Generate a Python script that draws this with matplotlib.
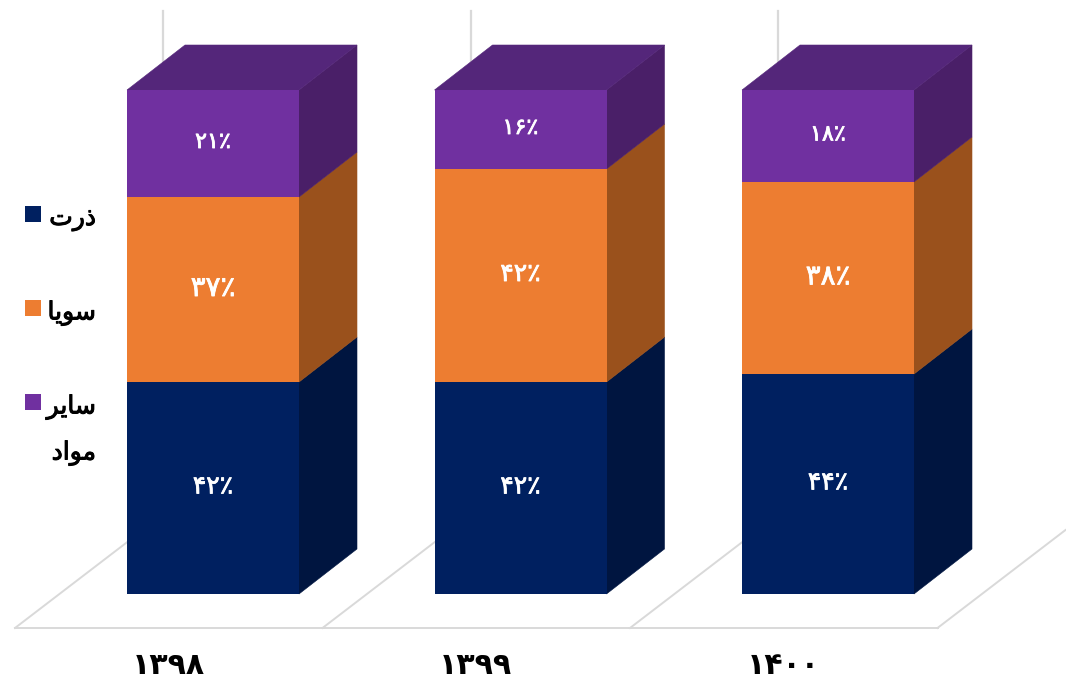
import matplotlib
matplotlib.use("Agg")
import matplotlib.pyplot as plt
import matplotlib.patheffects as pe
from matplotlib.patches import Polygon, Rectangle

years = ["۱۳۹۸", "۱۳۹۹", "۱۴۰۰"]
corn = [42.06, 42.06, 43.65]
soy = [36.7, 42.26, 38.1]
other = [21.24, 15.68, 18.25]
series_names = ["ذرت", "سویا", "سایر مواد"]
value_labels = [["۴۲٪", "۴۲٪", "۴۴٪"], ["۳۷٪", "۴۲٪", "۳۸٪"], ["۲۱٪", "۱۶٪", "۱۸٪"]]
series = [corn, soy, other]

front = ["#002060", "#ED7D31", "#7030A0"]
side = ["#001540", "#9A511C", "#4A1F68"]
top = "#54267A"
grid = "#D9D9D9"
label_sizes = [[18, 18, 18], [20, 18, 20], [16, 16, 16]]

FORMS = {"ذ": (0xFEAB, 0xFEAC, None, None), "ر": (0xFEAD, 0xFEAE, None, None),
         "ت": (0xFE95, 0xFE96, 0xFE97, 0xFE98), "س": (0xFEB1, 0xFEB2, 0xFEB3, 0xFEB4),
         "و": (0xFEED, 0xFEEE, None, None), "ی": (0xFBFC, 0xFBFD, 0xFBFE, 0xFBFF),
         "ا": (0xFE8D, 0xFE8E, None, None), "م": (0xFEE1, 0xFEE2, 0xFEE3, 0xFEE4),
         "د": (0xFEA9, 0xFEAA, None, None)}

def shape(word):
    out = []
    for i, c in enumerate(word):
        iso, fin, ini, med = FORMS[c]
        prev = i > 0 and FORMS[word[i - 1]][2] is not None
        nxt = i < len(word) - 1 and ini is not None
        code = med if prev and nxt else fin if prev else ini if nxt else iso
        out.append(chr(code))
    return "".join(reversed(out))

W, H = 1066, 680
fig = plt.figure(figsize=(W / 100, H / 100), dpi=100)
ax = fig.add_axes([0, 0, 1, 1])
PX_PER_X = 307.5
PX_PER_Y = 5.04
X0, Y0 = 213, 594
ax.set_xlim(-X0 / PX_PER_X, (W - X0) / PX_PER_X)
ax.set_ylim(-(H - Y0) / PX_PER_Y, Y0 / PX_PER_Y)
ax.axis("off")
bw = 172 / PX_PER_X
dx, dy = 58 / PX_PER_X, 45 / PX_PER_Y
FONT = "DejaVu Sans"

# floor and back wall lines
fl, fy = -198 / PX_PER_X, -34 / PX_PER_Y
for i in range(len(years) + 1):
    xb = fl + i * 1.0
    if i < len(years):
        ax.plot([xb, xb + 1], [fy, fy], color=grid, lw=1.4, zorder=1)
    ax.plot([xb, xb + 128 / PX_PER_X], [fy, fy + 98 / PX_PER_Y], color=grid, lw=1.4, zorder=1)
for i in range(len(years)):
    xw = i - 50 / PX_PER_X
    ax.plot([xw, xw], [100, 115.7], color=grid, lw=1.6, zorder=1)

# stacked 3D-looking columns
for i in range(len(years)):
    left = i - bw / 2
    bottom = 0
    for s, vals in enumerate(series):
        v = vals[i]
        ax.add_patch(Polygon([(left + bw, bottom), (left + bw + dx, bottom + dy),
                              (left + bw + dx, bottom + v + dy), (left + bw, bottom + v)],
                             fc=side[s], ec=side[s], lw=0.4, zorder=3))
        ax.add_patch(Rectangle((left, bottom), bw, v, fc=front[s], ec="none", zorder=3.2))
        t = ax.text(i, bottom + v / 2 + 0.3, value_labels[s][i], color="white",
                    ha="center", va="center", fontsize=label_sizes[s][i], family=FONT, zorder=4)
        t.set_path_effects([pe.withStroke(linewidth=0.6, foreground="white")])
        bottom += v
    ax.add_patch(Polygon([(left, bottom), (left + dx, bottom + dy), (left + bw + dx, bottom + dy),
                          (left + bw, bottom)], fc=top, ec=top, lw=0.4, zorder=3.1))
    ax.text(i - 45 / PX_PER_X, -72 / PX_PER_Y, years[i], color="black", ha="center", va="center",
            fontsize=21.5, fontweight="bold", family=FONT, zorder=4)

# legend
def px(x, y):
    return (x - X0) / PX_PER_X, (Y0 - y) / PX_PER_Y

for name, col, y0 in zip(series_names, front, [206, 300, 394]):
    x, y = px(25, y0 + 16)
    ax.add_patch(Rectangle((x, y), 16 / PX_PER_X, 16 / PX_PER_Y, fc=col, ec="none", zorder=4))
    words = name.split(" ")
    for k, w in enumerate(words):
        tx, ty = px(96, y0 + 13 + k * 46)
        t = ax.text(tx, ty, shape(w), ha="right", va="center", fontsize=18,
                    family=FONT, color="black", zorder=4)
        t.set_path_effects([pe.withStroke(linewidth=0.7, foreground="black")])

fig.savefig("out.png", dpi=100, facecolor="white")
